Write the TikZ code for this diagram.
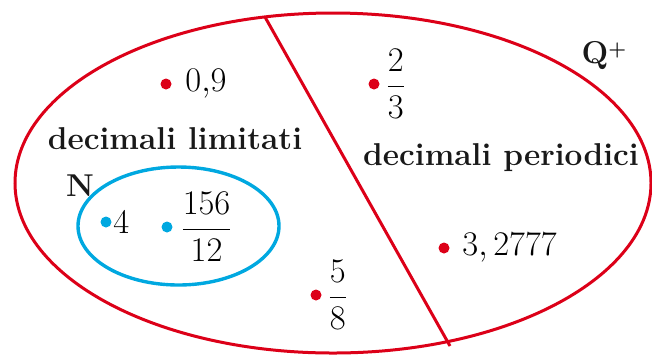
\documentclass[tikz,border=0pt]{standalone}
\usepackage{amsmath,amssymb}
\usepackage{xcolor}
\definecolor{setred}{RGB}{220,0,24}
\definecolor{setblue}{RGB}{0,168,224}

\tikzset{
    elem/.style={inner sep=0pt, text=black, font=\fontsize{18}{20}\selectfont},
    setname/.style={inner sep=0pt, text=black!90, font=\fontsize{15.8}{18}\selectfont\bfseries},
}

\begin{document}
\begin{tikzpicture}[x=0.5pt,y=-0.5pt]
    \useasboundingbox (0,0) rectangle (652,355);

    % Sets
    \draw[setred, line width=1.5pt] (333,183) ellipse (318 and 170);
    \draw[setblue, line width=1.7pt] (178.5,226) ellipse (100.5 and 59);

    % Dividing line
    \coordinate (top) at (265,17);
    \coordinate (bot) at (450,346);
    \draw[setred, line width=1.5pt] (top) -- (bot);

    % Set names
    \node[setname] (qplus) at (604,56) {Q\raisebox{0.6ex}{\fontsize{10}{10}\selectfont+}};
    \node[setname] (nat) at (80,186) {N};
    \node[setname] (lim) at (175,139) {decimali limitati};
    \node[setname] (per) at (501,158) {decimali periodici};

    % Elements
    \fill[setred] (166,84) circle (5.5) node[elem, right=9.5pt] (e09) {$0{,}9$};
    \fill[setred] (374,84) circle (5.5) node[elem, right=5.5pt] (e23) {$\dfrac{2}{3}$};
    \fill[setred] (444,248) circle (5.5) node[elem, right=9pt] (e32777) {$3,2777$};
    \fill[setred] (316,295) circle (5.5) node[elem, right=5.5pt] (e58) {$\dfrac{5}{8}$};
    \fill[setblue] (106,222) circle (5.5) node[elem, right=3.5pt] (e4) {$4$};
    \fill[setblue] (167,227) circle (5.5) node[elem, right=6.5pt] (e156) {$\dfrac{156}{12}$};
\end{tikzpicture}
\end{document}
